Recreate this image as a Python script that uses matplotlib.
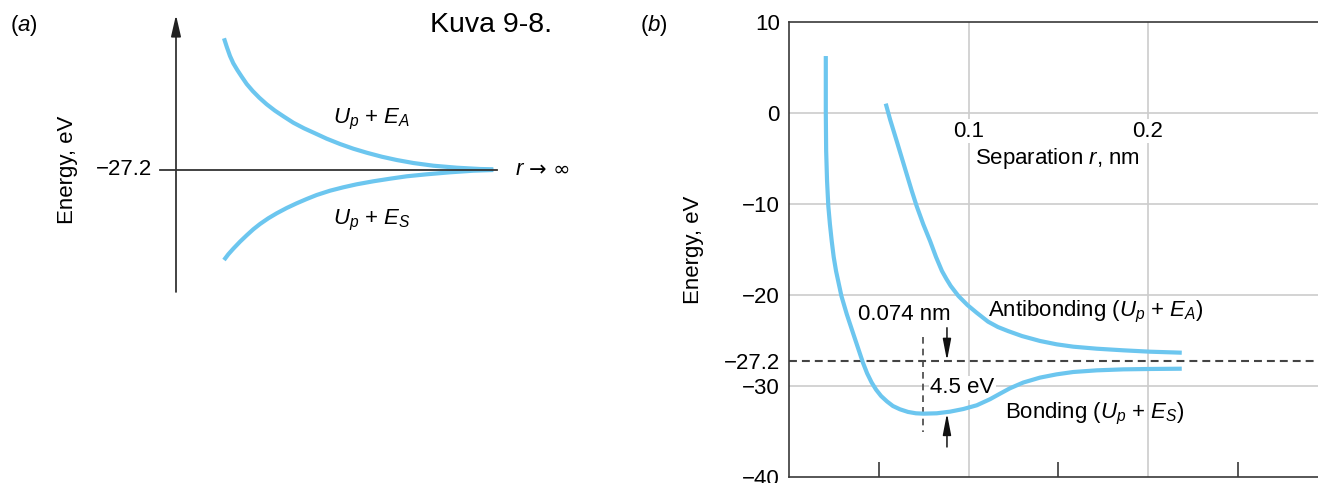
import matplotlib
matplotlib.use("Agg")
import matplotlib.pyplot as plt

plt.rcParams['font.family'] = ['Liberation Sans', 'DejaVu Sans']
plt.rcParams['mathtext.fontset'] = 'custom'
plt.rcParams['mathtext.rm'] = 'Liberation Sans'
plt.rcParams['mathtext.it'] = 'Liberation Sans:italic'

# (a) schematic curves, arbitrary units (r, energy offset from -27.2)
r_sketch_anti = [0.48, 0.507, 0.54, 0.573, 0.613, 0.657, 0.707, 0.767, 0.833, 0.907,
                 0.99, 1.08, 1.173, 1.28, 1.39, 1.507, 1.64, 1.773, 1.907, 2.057,
                 2.207, 2.373, 2.573, 2.807, 3.04, 3.173]
e_sketch_anti = [13.12, 12.28, 11.35, 10.62, 9.95, 9.28, 8.55, 7.85, 7.18, 6.52,
                 5.88, 5.28, 4.68, 4.12, 3.62, 3.08, 2.55, 2.08, 1.68, 1.28,
                 0.95, 0.65, 0.38, 0.18, 0.05, 0.02]
r_sketch_bond = [0.48, 0.523, 0.573, 0.64, 0.707, 0.773, 0.84, 0.923, 1.007, 1.107,
                 1.207, 1.307, 1.407, 1.54, 1.673, 1.807, 1.973, 2.14, 2.307, 2.507,
                 2.74, 2.973, 3.173]
e_sketch_bond = [-9.05, -8.48, -7.92, -7.22, -6.58, -5.98, -5.45, -4.88, -4.38, -3.85,
                 -3.38, -2.95, -2.55, -2.12, -1.78, -1.48, -1.18, -0.92, -0.68, -0.48,
                 -0.28, -0.12, -0.05]

# (b) H2+ energy curves, r in nm, E in eV
r_bond = [0.0205, 0.0205, 0.0207, 0.0212, 0.0219, 0.0228, 0.0238, 0.0249, 0.0262,
          0.0292, 0.0322, 0.0359, 0.0412, 0.0435, 0.0460, 0.0485, 0.0513, 0.0546,
          0.0579, 0.0618, 0.0663, 0.0707, 0.0748, 0.0823, 0.0897, 0.0971, 0.1046,
          0.1120, 0.1175, 0.1231, 0.1305, 0.1398, 0.1491, 0.1584, 0.1714, 0.1863,
          0.2011, 0.2188]
e_bond = [6.26, 0.04, -4.18, -7.47, -10.22, -12.23, -14.07, -15.82, -17.36,
          -20.11, -22.12, -24.32, -27.44, -28.6, -29.6, -30.4, -31.1, -31.7,
          -32.2, -32.56, -32.85, -33.0, -33.04, -33.0, -32.82, -32.53, -32.12,
          -31.45, -30.85, -30.25, -29.62, -29.08, -28.72, -28.46, -28.28, -28.17,
          -28.13, -28.1]
r_anti = [0.0539, 0.0563, 0.0600, 0.0628, 0.0656, 0.0683, 0.0711, 0.0748, 0.0786,
          0.0819, 0.0852, 0.0877, 0.0901, 0.0944, 0.0994, 0.1045, 0.1109, 0.1164,
          0.1220, 0.1298, 0.1398, 0.1491, 0.1584, 0.1714, 0.1863, 0.2011, 0.2188]
e_anti = [1.03, -0.70, -3.08, -4.91, -6.74, -8.50, -10.22, -12.23, -14.07,
          -15.82, -17.36, -18.24, -19.01, -20.11, -21.1, -21.94, -22.93, -23.52,
          -23.96, -24.51, -25.05, -25.42, -25.68, -25.9, -26.08, -26.23, -26.34]

e_limit = -27.2
r_eq = 0.0745
e_min = -33.0
yticks = [10, 0, -10, -20, -27.2, -30, -40]
ytick_labels = ['10', '0', '\u221210', '\u221220', '\u221227.2', '\u221230', '\u221240']
grid_y = [0, -10, -20, -30]
grid_x = [0.1, 0.2]
xticks = [0.05, 0.15, 0.25]

blue = '#6cc6ef'
dark = '#333333'
fs = 16
W, H = 1318, 483

fig = plt.figure(figsize=(W / 100, H / 100), dpi=100)

# ---- panel (a) ----
ax_a = fig.add_axes([60 / W, (H - 300) / H, 540 / W, 300 / H])
ax_a.set_xlim(-1.16, 4.24)
ax_a.set_ylim(-13.05, 16.95)
ax_a.axis('off')
ax_a.plot(r_sketch_anti, e_sketch_anti, color=blue, lw=3, solid_capstyle='butt')
ax_a.plot(r_sketch_bond, e_sketch_bond, color=blue, lw=3, solid_capstyle='butt')
ax_a.plot([-0.16, 3.21], [0, 0], color=dark, lw=1.3, zorder=4)
ax_a.annotate('', xy=(0, 15.45), xytext=(0, -12.25),
              arrowprops=dict(arrowstyle='-|>,head_length=1.3,head_width=0.3',
                              color='#222222', lw=1.2, shrinkA=0, shrinkB=0))
ax_a.text(-0.24, 0, '\u221227.2', ha='right', va='center', fontsize=fs)
ax_a.text(3.39, 0, '$r$', ha='left', va='center', fontsize=fs)
ax_a.text(3.53, 0, '\u2192 \u221e', ha='left', va='center', fontsize=15,
          family='DejaVu Sans')
ax_a.text(1.57, 5.0, '$U_p$ + $E_A$', ha='left', va='center', fontsize=fs)
ax_a.text(1.57, -5.1, '$U_p$ + $E_S$', ha='left', va='center', fontsize=fs)

fig.text(68 / W, 1 - 170 / H, 'Energy, eV', rotation=90, ha='center', va='center', fontsize=fs)
fig.text(10 / W, 1 - 25 / H, '($a$)', ha='left', va='center', fontsize=fs)
fig.text(430 / W, 1 - 25 / H, 'Kuva 9-8.', ha='left', va='center', fontsize=20.5)

# ---- panel (b) ----
ax_b = fig.add_axes([789 / W, 6 / H, 529 / W, 455 / H])
ax_b.set_xlim(0, 0.2947)
ax_b.set_ylim(-40, 10)
for y in grid_y:
    ax_b.axhline(y, color='#cccccc', lw=1.2, zorder=0)
for x in grid_x:
    ax_b.axvline(x, color='#cccccc', lw=1.2, zorder=0)
ax_b.axhline(e_limit, color='#444444', lw=1.5, dashes=(3.8, 2.4), zorder=1)

ax_b.plot(r_bond, e_bond, color=blue, lw=3, solid_capstyle='butt', zorder=3)
ax_b.plot(r_anti, e_anti, color=blue, lw=3, solid_capstyle='butt', zorder=3)

ax_b.spines['right'].set_visible(False)
for s in ['left', 'top', 'bottom']:
    ax_b.spines[s].set_color('#3a3a3a')
    ax_b.spines[s].set_linewidth(1.2)
ax_b.set_yticks(yticks)
ax_b.set_yticklabels(ytick_labels)
ax_b.tick_params(axis='y', length=0, pad=6.5, labelsize=fs)
ax_b.set_xticks(xticks)
ax_b.tick_params(axis='x', direction='in', length=11, width=1.2, color='#3a3a3a',
                 labelbottom=False)

for x in grid_x:
    ax_b.text(x, -2.0, str(x), ha='center', va='center', fontsize=fs, zorder=2,
              bbox=dict(facecolor='white', edgecolor='none', pad=1))
ax_b.text(0.1036, -5.05, 'Separation $r$, nm', ha='left', va='center', fontsize=fs)

# equilibrium marker and binding energy
ax_b.plot([r_eq, r_eq], [-24.6, -35.0], color='#444444', lw=1.2, dashes=(4, 3), zorder=2)
ax_b.annotate('', xy=(0.088, e_limit), xytext=(0.088, -23.6),
              arrowprops=dict(arrowstyle='-|>,head_length=1.3,head_width=0.25',
                              color='#111111', lw=1.1, shrinkA=0, shrinkB=0))
ax_b.annotate('', xy=(0.088, e_min), xytext=(0.088, -36.7),
              arrowprops=dict(arrowstyle='-|>,head_length=1.3,head_width=0.25',
                              color='#111111', lw=1.1, shrinkA=0, shrinkB=0))
ax_b.text(0.0384, -22.1, '0.074 nm', ha='left', va='center', fontsize=fs)
ax_b.text(0.0786, -30.2, '4.5 eV', ha='left', va='center', fontsize=fs, zorder=2,
          bbox=dict(facecolor='white', edgecolor='none', pad=1))
ax_b.text(0.1109, -21.9, 'Antibonding ($U_p$ + $E_A$)', ha='left', va='center', fontsize=fs)
ax_b.text(0.1203, -33.1, 'Bonding ($U_p$ + $E_S$)', ha='left', va='center', fontsize=fs)

fig.text(693 / W, 1 - 250 / H, 'Energy, eV', rotation=90, ha='center', va='center', fontsize=fs)
fig.text(640 / W, 1 - 25 / H, '($b$)', ha='left', va='center', fontsize=fs)

fig.savefig('out.png', dpi=100)
